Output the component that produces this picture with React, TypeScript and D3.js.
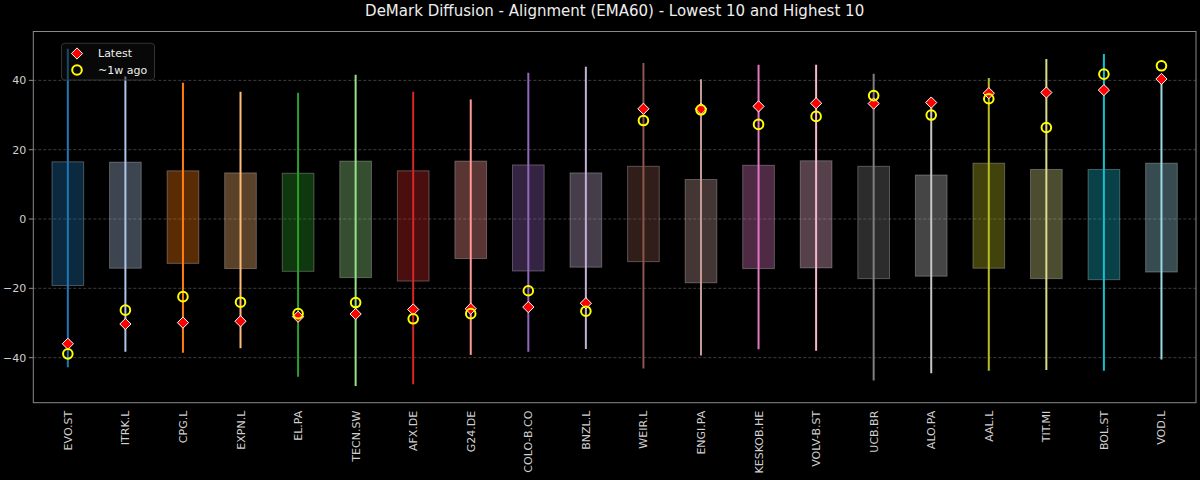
import React from "react";
import * as d3 from "d3";

const tickers = ["EVO.ST","ITRK.L","CPG.L","EXPN.L","EL.PA","TECN.SW","AFX.DE","G24.DE","COLO-B.CO","BNZL.L","WEIR.L","ENGI.PA","KESKOB.HE","VOLV-B.ST","UCB.BR","ALO.PA","AAL.L","TIT.MI","BOL.ST","VOD.L"];
const rangeMax = [49.1,41.1,39.3,36.7,36.4,41.6,36.7,34.5,42.2,43.9,45.0,40.3,44.5,44.5,41.9,34.0,40.7,46.2,47.6,41.0];
const rangeMin = [-42.8,-38.3,-38.6,-37.3,-45.5,-48.2,-47.7,-39.2,-38.3,-37.5,-43.1,-39.4,-37.6,-38.0,-46.6,-44.5,-43.8,-43.6,-43.8,-40.5];
const boxHigh = [16.5,16.4,13.9,13.3,13.2,16.7,13.9,16.7,15.6,13.3,15.2,11.4,15.5,16.8,15.2,12.7,16.1,14.3,14.3,16.1];
const boxLow = [-19.2,-14.2,-12.8,-14.3,-15.1,-16.9,-17.9,-11.4,-15.0,-13.9,-12.3,-18.4,-14.3,-14.1,-17.2,-16.5,-14.2,-17.2,-17.5,-15.3];
const latest = [-36.0,-30.3,-29.9,-29.5,-28.2,-27.4,-26.1,-25.9,-25.4,-24.3,31.8,31.8,32.5,33.4,33.3,33.6,36.3,36.5,37.2,40.4];
const weekAgo = [-38.9,-26.3,-22.4,-24.0,-27.3,-24.1,-28.8,-27.3,-20.7,-26.6,28.4,31.5,27.3,29.6,35.6,30.0,34.7,26.4,41.8,44.2];
const palette = ["#1f77b4","#aec7e8","#ff7f0e","#ffbb78","#2ca02c","#98df8a","#d62728","#ff9896","#9467bd","#c5b0d5","#8c564b","#c49c94","#e377c2","#f7b6d2","#7f7f7f","#c7c7c7","#bcbd22","#dbdb8d","#17becf","#9edae5"];
const yTicks = [-40, -20, 0, 20, 40];
const title = "DeMark Diffusion - Alignment (EMA60) - Lowest 10 and Highest 10";

const W = 1200, H = 480;
const L = 33.3, R = 1196, T = 31.5, B = 402.7;
const FONT = "DejaVu Sans, Verdana, sans-serif";

export default function App() {
  const x = d3.scaleLinear().domain([-0.6, tickers.length - 0.4]).range([L, R]);
  const y = d3.scaleLinear().domain([-53.0, 54.1]).range([B, T]);
  const bw = (x(0.55) - x(0));
  const diamond = d3.symbol().type(d3.symbolDiamond2).size(80)();
  const legendDiamond = d3.symbol().type(d3.symbolDiamond2).size(80)();

  return (
    <svg width={W} height={H} style={{ position: "absolute", left: 0, top: 0, background: "#000" }} fontFamily={FONT}>
      <rect x={0} y={0} width={W} height={H} fill="#000" />
      <text x={(L + R) / 2} y={15.5} textAnchor="middle" fill="#eeeeee" fontSize={15}>{title}</text>
      {/* grid */}
      {yTicks.map((t) => (
        <line key={"g" + t} x1={L} x2={R} y1={y(t)} y2={y(t)} stroke="#ffffff" strokeOpacity={0.3} strokeWidth={0.8} strokeDasharray="3,2" />
      ))}
      {/* boxes */}
      {tickers.map((tk, i) => (
        <rect key={"b" + tk} x={x(i) - bw / 2} y={y(boxHigh[i])} width={bw} height={y(boxLow[i]) - y(boxHigh[i])}
          fill={palette[i]} fillOpacity={0.35} stroke="#ffffff" strokeOpacity={0.28} strokeWidth={1} />
      ))}
      {/* range lines */}
      {tickers.map((tk, i) => (
        <line key={"l" + tk} x1={x(i)} x2={x(i)} y1={y(rangeMax[i])} y2={y(rangeMin[i])} stroke={palette[i]} strokeWidth={2} />
      ))}
      {/* latest */}
      {tickers.map((tk, i) => (
        <path key={"d" + tk} d={diamond} transform={`translate(${x(i)},${y(latest[i])})`} fill="#ff0000" stroke="#ffffff" strokeWidth={1} />
      ))}
      {/* week ago */}
      {tickers.map((tk, i) => (
        <circle key={"c" + tk} cx={x(i)} cy={y(weekAgo[i])} r={4.8} fill="none" stroke="#ffff00" strokeWidth={2} />
      ))}
      {/* frame */}
      <rect x={L} y={T} width={R - L} height={B - T} fill="none" stroke="#8a8a8a" strokeWidth={1} />
      {/* y ticks */}
      {yTicks.map((t) => (
        <g key={"yt" + t}>
          <line x1={L - 4.5} x2={L} y1={y(t)} y2={y(t)} stroke="#8a8a8a" strokeWidth={1} />
          <text x={L - 7} y={y(t)} dy="0.36em" textAnchor="end" fill="#d0d0d0" fontSize={11}>{t < 0 ? "\u2212" + Math.abs(t) : String(t)}</text>
        </g>
      ))}
      {/* x labels */}
      {tickers.map((tk, i) => (
        <text key={"xt" + tk} transform={`translate(${x(i) + 4},${B + 8}) rotate(-90)`} textAnchor="end" fill="#d0d0d0" fontSize={11}>{tk}</text>
      ))}
      {/* legend */}
      <g>
        <rect x={61.5} y={43.3} width={93} height={36.7} rx={3} fill="#111111" fillOpacity={0.45} stroke="#333333" strokeWidth={1} />
        <path d={legendDiamond} transform="translate(77,53.5)" fill="#ff0000" stroke="#ffffff" strokeWidth={1} />
        <circle cx={77} cy={70} r={4.8} fill="none" stroke="#ffff00" strokeWidth={2} />
        <text x={98} y={53.5} dy="0.36em" fill="#eeeeee" fontSize={11}>Latest</text>
        <text x={98} y={70} dy="0.36em" fill="#eeeeee" fontSize={11}>~1w ago</text>
      </g>
    </svg>
  );
}
